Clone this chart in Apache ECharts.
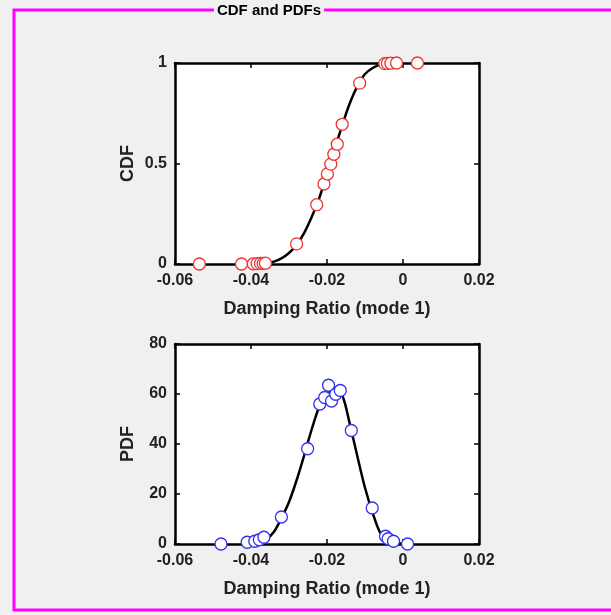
<!DOCTYPE html>
<html>
<head>
<meta charset="utf-8">
<script src="https://cdn.jsdelivr.net/npm/echarts@6/dist/echarts.min.js"></script>
<style>
  html, body { margin: 0; padding: 0; background: #f0f0f0; }
  #chart { width: 611px; height: 615px; }
</style>
</head>
<body>
<div id="chart"></div>
<script>
// x ticks shared by both panels
var xTicks = [-0.06, -0.04, -0.02, 0, 0.02];
var cdfTicks = [0, 0.5, 1];
var pdfTicks = [0, 20, 40, 60, 80];

// fitted CDF curve
var cdfCurveX = [-0.040, -0.036, -0.034, -0.032, -0.030, -0.028, -0.026, -0.024, -0.022, -0.020,
                 -0.018, -0.016, -0.014, -0.012, -0.010, -0.008, -0.006, -0.004, -0.002, 0.000];
var cdfCurveY = [0.000, 0.004, 0.012, 0.028, 0.055, 0.095, 0.155, 0.235, 0.33, 0.45,
                 0.57, 0.69, 0.80, 0.885, 0.945, 0.975, 0.992, 0.998, 1.0, 1.0];

// CDF sample points
var cdfPtsX = [-0.0536, -0.0425, -0.0394, -0.0384, -0.0375, -0.0368, -0.0362, -0.0280, -0.0227, -0.0208,
               -0.0199, -0.0190, -0.0182, -0.0173, -0.0160, -0.0114, -0.0048, -0.0041, -0.0032, -0.0017, 0.0038];
var cdfPtsY = [0, 0, 0.001, 0.002, 0.003, 0.003, 0.004, 0.1, 0.295, 0.398,
               0.448, 0.497, 0.546, 0.596, 0.695, 0.9, 0.997, 0.998, 0.999, 1, 1];

// fitted PDF curve
var pdfCurveX = [-0.040, -0.038, -0.036, -0.034, -0.032, -0.030, -0.028, -0.026, -0.024, -0.022, -0.020,
                 -0.018, -0.016, -0.014, -0.012, -0.010, -0.008, -0.006, -0.004, -0.002, 0.000, 0.002];
var pdfCurveY = [0.2, 0.6, 1.8, 4.8, 10.3, 16.8, 25.5, 35.5, 46, 55, 60,
                 61.5, 59.5, 48, 35, 22.5, 12.5, 4.5, 1.5, 0.5, 0.1, 0];

// PDF sample points
var pdfPtsX = [-0.0479, -0.0410, -0.0390, -0.0378, -0.0366, -0.0320, -0.0251, -0.0219, -0.0206, -0.0196,
               -0.0188, -0.0177, -0.0165, -0.0136, -0.0081, -0.0046, -0.0039, -0.0025, 0.0012];
var pdfPtsY = [0, 0.7, 1.1, 1.7, 2.7, 10.8, 38.1, 56.0, 58.6, 63.5,
               57.2, 59.9, 61.4, 45.4, 14.4, 3.1, 2.1, 1.1, 0];

function zip(a, b) { return a.map(function (v, i) { return [v, b[i]]; }); }
function fmt(v) { return String(Number(v.toFixed(2))); }

var font = '"Liberation Sans", Arial, sans-serif';
var labelStyle = { color: '#222', fontWeight: 'bold', fontSize: 16, fontFamily: font };
var nameStyle = { color: '#222', fontWeight: 'bold', fontSize: 18, fontFamily: font };
var lineStyle = { color: '#000', width: 2.5 };
var tickStyle = { show: true, inside: true, length: 5, lineStyle: { color: '#000', width: 1.5 } };

function xAxes(grid) {
  return [{
    type: 'value', gridIndex: grid, position: 'bottom',
    min: xTicks[0], max: xTicks[xTicks.length - 1], interval: 0.02,
    name: 'Damping Ratio (mode 1)', nameLocation: 'middle', nameGap: 36, nameTextStyle: nameStyle,
    axisLine: { show: true, onZero: false, lineStyle: lineStyle },
    axisTick: tickStyle, splitLine: { show: false },
    axisLabel: Object.assign({ margin: 9, formatter: fmt }, labelStyle)
  }, {
    type: 'value', gridIndex: grid, position: 'top',
    min: xTicks[0], max: xTicks[xTicks.length - 1], interval: 0.02,
    axisLine: { show: true, onZero: false, lineStyle: lineStyle },
    axisTick: tickStyle, axisLabel: { show: false }, splitLine: { show: false }
  }];
}

function yAxes(grid, name, ticks) {
  var step = ticks[1] - ticks[0];
  return [{
    type: 'value', gridIndex: grid, position: 'left',
    min: ticks[0], max: ticks[ticks.length - 1], interval: step,
    name: name, nameLocation: 'middle', nameGap: 38, nameTextStyle: nameStyle,
    axisLine: { show: true, onZero: false, lineStyle: lineStyle },
    axisTick: tickStyle, splitLine: { show: false },
    axisLabel: Object.assign({ margin: 8 }, labelStyle)
  }, {
    type: 'value', gridIndex: grid, position: 'right',
    min: ticks[0], max: ticks[ticks.length - 1], interval: step,
    axisLine: { show: true, onZero: false, lineStyle: lineStyle },
    axisTick: tickStyle, axisLabel: { show: false }, splitLine: { show: false }
  }];
}

var chart = echarts.init(document.getElementById('chart'), null, { renderer: 'canvas' });

chart.setOption({
  animation: false,
  backgroundColor: '#f0f0f0',
  grid: [
    { left: 175, top: 63, width: 304, height: 201, show: true, backgroundColor: '#fff', borderWidth: 0 },
    { left: 175, top: 344, width: 304, height: 200, show: true, backgroundColor: '#fff', borderWidth: 0 }
  ],
  xAxis: xAxes(0).concat(xAxes(1)),
  yAxis: yAxes(0, 'CDF', cdfTicks).concat(yAxes(1, 'PDF', pdfTicks)),
  graphic: [
    {
      type: 'rect', z: 0,
      shape: { x: 14, y: 10, width: 640, height: 600 },
      style: { fill: null, stroke: '#ff00ff', lineWidth: 3 }
    },
    {
      type: 'text', z: 10, x: 269, y: 11,
      style: {
        text: 'CDF and PDFs', fill: '#000', font: 'bold 15px ' + font,
        align: 'center', verticalAlign: 'middle',
        backgroundColor: '#f0f0f0', padding: [1, 3]
      }
    }
  ],
  series: [
    {
      type: 'line', xAxisIndex: 0, yAxisIndex: 0, data: zip(cdfCurveX, cdfCurveY),
      smooth: 0.3, showSymbol: false, lineStyle: { color: '#000', width: 2.5 }, z: 2
    },
    {
      type: 'scatter', xAxisIndex: 0, yAxisIndex: 0, data: zip(cdfPtsX, cdfPtsY),
      symbol: 'circle', symbolSize: 12,
      itemStyle: { color: '#fff', borderColor: '#ee3333', borderWidth: 1.3, opacity: 1 }, z: 3
    },
    {
      type: 'line', xAxisIndex: 2, yAxisIndex: 2, data: zip(pdfCurveX, pdfCurveY),
      smooth: 0.3, showSymbol: false, lineStyle: { color: '#000', width: 2.5 }, z: 2
    },
    {
      type: 'scatter', xAxisIndex: 2, yAxisIndex: 2, data: zip(pdfPtsX, pdfPtsY),
      symbol: 'circle', symbolSize: 12,
      itemStyle: { color: '#fff', borderColor: '#3333ee', borderWidth: 1.3, opacity: 1 }, z: 3
    }
  ]
});
</script>
</body>
</html>
